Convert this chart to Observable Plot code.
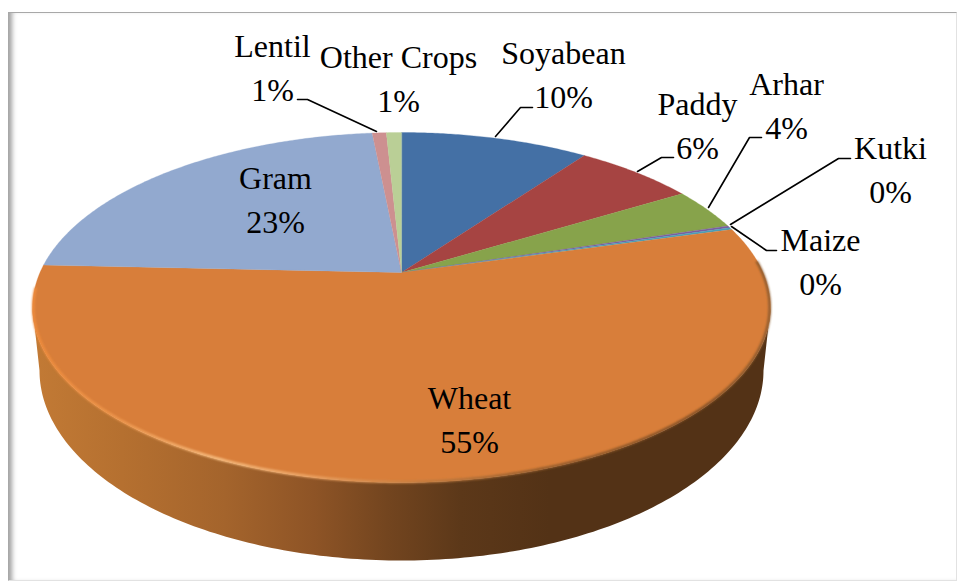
<!DOCTYPE html>
<html>
<head>
<meta charset="utf-8">
<script src="https://cdn.jsdelivr.net/npm/d3@7"></script>
<script src="https://cdn.jsdelivr.net/npm/@observablehq/plot@0.6"></script>
<style>
html,body{margin:0;padding:0;background:#fff;overflow:hidden}
#frame{position:absolute;left:8px;top:12px;width:947px;height:567px;border:1px solid #e2e2e2;border-top:1px solid #a8a8a8;border-left:1px solid #a8a8a8;box-shadow:inset 6px 0 5px -3px #a0a0a0}
#chart{position:absolute;left:0;top:0}
svg{display:block;background:transparent!important}
</style>
</head>
<body>
<div id="frame"></div>
<div id="chart"></div>
<script>
// Data (share of area, %)
const crops   = ["Soyabean","Paddy","Arhar","Kutki","Maize","Wheat","Gram","Lentil","Other Crops"];
const shares  = [10, 6.36, 3.9, 0.2, 0.2, 55.05, 22.74, 0.75, 0.8];
const labels  = ["10%","6%","4%","0%","0%","55%","23%","1%","1%"];
const colours = ["#4470a5","#a64442","#87a34b","#7a5ea0","#4a9fb8","#d87e3a","#92a9cf","#cd9090","#bacf96"];

// Layout of the perspective disc
const apex = {x:401, y:272}, a = 361.5, b = 168, k = 0.2;
const base = {x:401, y:370, rx:362, ry:190};
const labelPos = {
  "Soyabean":[563,54], "Paddy":[697,105], "Arhar":[786,85], "Kutki":[890,149], "Maize":[820,241],
  "Wheat":[469,399], "Gram":[275,179], "Lentil":[272,47], "Other Crops":[398,58]
};
const leaderPos = [
  ["Lentil",[[297,99],[307,99],[376,131]]],
  ["Soyabean",[[495,136],[520,107],[532,107]]],
  ["Paddy",[[637,171],[661,157],[673,157]]],
  ["Arhar",[[708,207],[749,137],[761,137]]],
  ["Kutki",[[730,224],[838,158],[850,158]]],
  ["Maize",[[731,226],[766,250],[776,250]]]
];
const lineGap = 44, fontSize = 32, textShift = -5;

// fraction of the circle (clockwise from top) -> picture position
function proj(f, r = 1){
  const t = 2*Math.PI*f, u = r*Math.sin(t), v = r*Math.cos(t), d = 1 + k*v;
  return {x: apex.x + a*u/d, y: apex.y - b*v/d};
}
const total = d3.sum(shares);
let acc = 0;
const slicePts = [];
crops.forEach((name,i)=>{
  const f0 = acc/total; acc += shares[i]; const f1 = acc/total;
  slicePts.push({name,colour:colours[i],...apex});
  const n = Math.max(2, Math.ceil((f1-f0)*720));
  for(let j=0;j<=n;j++) slicePts.push({name,colour:colours[i],...proj(f0+(f1-f0)*j/n)});
});
const frontTop = d3.range(0,221).map(j=>proj(0.282+0.436*j/220));
const sidePts = [
  ...frontTop,
  ...d3.range(0,181).map(j=>{
    const t = Math.PI - Math.PI*j/180;
    return {x:base.x+base.rx*Math.cos(t), y:base.y+base.ry*Math.sin(t)};
  })
];
const rimPts = d3.range(0,301).map(j=>proj(0.24+0.495*j/300, 0.998));
const labelRows = crops.map((name,i)=>({
  x:labelPos[name][0], y:labelPos[name][1]+lineGap/2+textShift, text:name+"\n"+labels[i]
}));
const leaderRows = leaderPos.flatMap(([name,pts])=>pts.map(([x,y])=>({name,x,y})));

const defs = () => {
  const s = d3.create("svg:defs");
  const g1 = s.append("linearGradient").attr("id","side").attr("gradientUnits","userSpaceOnUse")
    .attr("x1",33).attr("x2",770).attr("y1",0).attr("y2",0);
  [[0,"#c27a35"],[.12,"#b57030"],[.26,"#a4642c"],[.38,"#8e5426"],[.48,"#73451f"],[.58,"#5c3819"],[.7,"#533216"],[1,"#533216"]]
    .forEach(([o,c])=>g1.append("stop").attr("offset",o).attr("stop-color",c));
  const g2 = s.append("linearGradient").attr("id","rim").attr("gradientUnits","userSpaceOnUse")
    .attr("x1",33).attr("x2",770).attr("y1",0).attr("y2",0);
  [[0,"#f08c3c"],[.12,"#f09a50"],[.25,"#fac488"],[.38,"#eca566"],[.5,"#c98345"],[.68,"#8f5a2c"],[.9,"#7a4b24"],[1,"#8a5a2e"]]
    .forEach(([o,c])=>g2.append("stop").attr("offset",o).attr("stop-color",c));
  const f = s.append("filter").attr("id","soft").attr("x","-5%").attr("y","-5%").attr("width","110%").attr("height","110%");
  f.append("feGaussianBlur").attr("stdDeviation",0.8);
  return s.node();
};

const chart = Plot.plot({
  width:957, height:582, margin:0,
  x:{domain:[0,957], range:[0,957], axis:null},
  y:{domain:[0,582], range:[0,582], axis:null},
  color:{type:"identity"},
  style:{background:"transparent"},
  marks:[
    defs,
    Plot.line(sidePts,{x:"x",y:"y",fill:"url(#side)",stroke:"none",curve:"linear-closed"}),
    Plot.line(slicePts,{x:"x",y:"y",z:"name",fill:"colour",stroke:"colour",strokeWidth:0.3,curve:"linear-closed"}),
    Plot.line(rimPts,{x:"x",y:"y",stroke:"url(#rim)",strokeWidth:2.5,imageFilter:"url(#soft)"}),
    Plot.line(leaderRows,{x:"x",y:"y",z:"name",stroke:"#000",strokeWidth:1.6}),
    Plot.text(labelRows,{x:"x",y:"y",text:"text",fontSize,fontFamily:"'Liberation Serif',serif",fill:"#000",lineHeight:lineGap/fontSize,textAnchor:"middle"})
  ]
});
document.getElementById("chart").appendChild(chart);
</script>
</body>
</html>
